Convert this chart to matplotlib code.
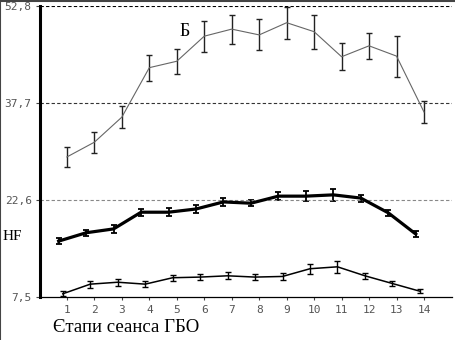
import matplotlib

matplotlib.use("Agg")

import matplotlib.pyplot as plt
import numpy as np
from matplotlib.lines import Line2D

stages = np.arange(1, 15)
stage_labels = [str(s) for s in stages]
y_ticks = [7.5, 22.6, 37.7, 52.8]
y_tick_labels = ["7,5", "22,6", "37,7", "52,8"]

# upper curve (Б)
b_mean = [29.3, 31.6, 35.5, 43.2, 44.2, 48.1, 49.2, 48.3, 50.2, 48.8, 44.9, 46.6, 45.0, 36.3]
b_err = [1.56, 1.63, 1.71, 2.02, 1.95, 2.41, 2.26, 2.41, 2.49, 2.65, 2.10, 2.02, 3.19, 1.71]

# middle curve, heavy line
mid_mean = [16.2, 17.5, 18.1, 20.7, 20.7, 21.2, 22.3, 22.1, 23.2, 23.2, 23.4, 22.9, 20.6, 17.3]
mid_err = [0.5, 0.5, 0.6, 0.55, 0.6, 0.55, 0.65, 0.5, 0.6, 0.75, 0.9, 0.55, 0.45, 0.4]

# lower curve
low_mean = [8.0, 9.5, 9.8, 9.5, 10.5, 10.6, 10.8, 10.6, 10.7, 11.9, 12.2, 10.8, 9.6, 8.4]
low_err = [0.4, 0.55, 0.55, 0.45, 0.5, 0.5, 0.55, 0.5, 0.5, 0.8, 0.95, 0.45, 0.4, 0.35]

fig = plt.figure(figsize=(4.56, 3.40), dpi=100)
ax = fig.add_axes([40 / 456, 43 / 340, 412 / 456, 291 / 340])

tick_font = {"family": "DejaVu Sans Mono", "size": 8, "color": "#555555"}
serif = ["Liberation Serif", "DejaVu Serif"]

ax.errorbar(stages, b_mean, yerr=b_err, color="#666666", lw=0.8,
            ecolor="#222222", elinewidth=1.0, capsize=2, capthick=1.0)
ax.errorbar(stages - 0.3, mid_mean, yerr=mid_err, color="black", lw=2.3,
            ecolor="black", elinewidth=1.3, capsize=2.5, capthick=1.3)
ax.errorbar(stages - 0.15, low_mean, yerr=low_err, color="black", lw=1.1,
            ecolor="black", elinewidth=1.0, capsize=2.2, capthick=1.0)

# dashed reference levels
ax.axhline(52.8, color="black", lw=0.8, ls=(0, (3, 2)))
ax.axhline(37.7, color="#333333", lw=0.8, ls=(0, (3, 2)))
ax.axhline(22.6, color="#888888", lw=0.8, ls=(0, (3, 2)))

ax.set_xlim(0.02, 15.02)
ax.set_ylim(7.5, 52.8)
ax.set_xticks(stages)
ax.set_xticklabels(stage_labels, fontdict=tick_font)
ax.set_yticks(y_ticks)
ax.set_yticklabels(y_tick_labels, fontdict=tick_font)
ax.tick_params(axis="x", length=2, width=0.8, pad=4, color="#444444")
ax.tick_params(axis="y", length=3, width=0.8, pad=3, color="#444444")

for side in ("top", "right"):
    ax.spines[side].set_visible(False)
ax.spines["left"].set_linewidth(2.2)
ax.spines["bottom"].set_linewidth(0.9)

ax.text(5.3, 48.9, "Б", family=serif, fontsize=13, ha="center", va="center")
fig.text(12 / 456, 1 - 237 / 340, "HF", family=serif, fontsize=11,
         ha="center", va="center")
fig.text(126 / 456, 1 - 327 / 340, "Єтапи сеанса ГБО", family=serif,
         fontsize=13.5, ha="center", va="center")

# frame along the top and left edges of the image
fig.lines.append(Line2D([0.001, 0.001, 1], [0, 0.997, 0.997],
                        transform=fig.transFigure, color="#444444", lw=1.5))

fig.savefig("out.png", dpi=100)
